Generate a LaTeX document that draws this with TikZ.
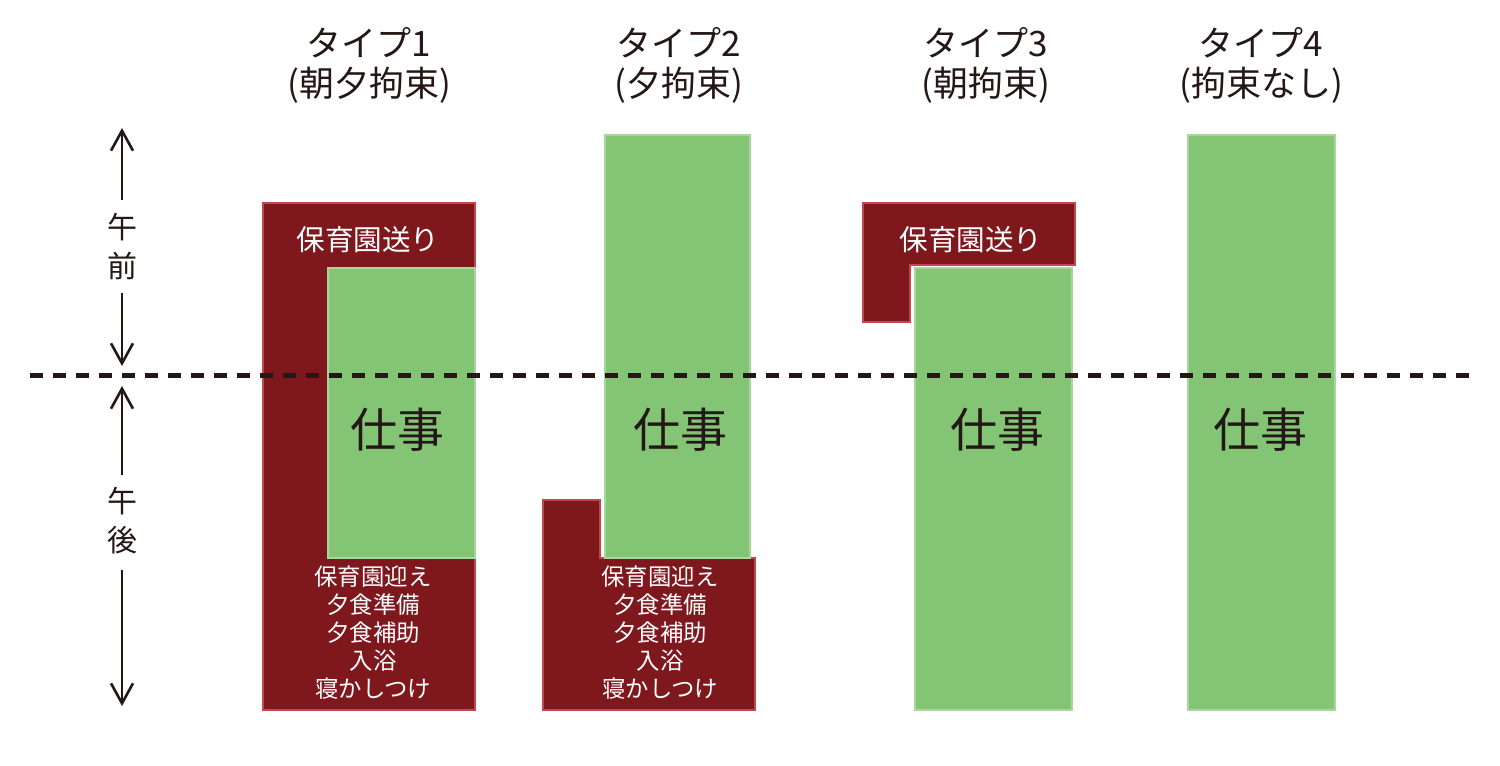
\documentclass[tikz,border=0pt]{standalone}
\usepackage{fontspec}
\setmainfont{Noto Sans CJK JP}
\usetikzlibrary{arrows.meta}
\definecolor{dred}{HTML}{7E181D}
\definecolor{redline}{HTML}{C2464A}
\definecolor{work}{HTML}{83C574}
\definecolor{workline}{HTML}{A8D69B}
\definecolor{ink}{HTML}{231815}
\begin{document}
\begin{tikzpicture}[x=0.5pt,y=-0.5pt,
  care/.style={fill=dred,draw=redline,line width=1pt},
  job/.style={fill=work,draw=workline,line width=1pt},
  title/.style={text=ink,align=center,font=\fontsize{17.5}{20}\selectfont},
  jobtxt/.style={text=ink,font=\fontsize{23.5}{26}\selectfont},
  sendtxt/.style={text=white,font=\fontsize{14.3}{16}\selectfont},
  picktxt/.style={text=white,align=center,font=\fontsize{11.7}{14}\selectfont},
  side/.style={text=ink,align=center,font=\fontsize{15}{19.5}\selectfont},
  arr/.style={draw=ink,line width=1.3pt,-{Straight Barb[length=10pt,width=11pt,line width=1.3pt]}},
  noon/.style={draw=ink,line width=2.5pt,dash pattern=on 6.5pt off 5pt}
]
\useasboundingbox (0,0) rectangle (1500,766);
\fill[white] (0,0) rectangle (1500,766);

% titles
\node[title] (t1) at (369,65) {タイプ1\\(朝夕拘束)};
\node[title] (t2) at (679,65) {タイプ2\\(夕拘束)};
\node[title] (t3) at (986,65) {タイプ3\\(朝拘束)};
\node[title] (t4) at (1261,65) {タイプ4\\(拘束なし)};

% type 1
\path[care] (263,203) rectangle (475,710);
\path[job] (328,268) rectangle (475,558);
\node[sendtxt] (s1) at (368,240) {保育園送り};
\node[picktxt] (p1) at (373,633) {保育園迎え\\夕食準備\\夕食補助\\入浴\\寝かしつけ};

% type 2
\path[care] (543,500) -- (600,500) -- (600,558) -- (755,558) -- (755,710) -- (543,710) -- cycle;
\path[job] (605,135) rectangle (750,558);
\node[picktxt] (p2) at (660,633) {保育園迎え\\夕食準備\\夕食補助\\入浴\\寝かしつけ};

% type 3
\path[care] (863,203) -- (1075,203) -- (1075,265) -- (910,265) -- (910,322) -- (863,322) -- cycle;
\path[job] (915,268) rectangle (1072,710);
\node[sendtxt] (s3) at (971,240) {保育園送り};

% type 4
\path[job] (1188,135) rectangle (1335,710);

% noon line
\coordinate (nl) at (30,375);
\coordinate (nr) at (1470,375);
\draw[noon] (nl) -- (nr);

% work labels
\node[jobtxt] (w1) at (397,430) {仕事};
\node[jobtxt] (w2) at (680,430) {仕事};
\node[jobtxt] (w3) at (997,430) {仕事};
\node[jobtxt] (w4) at (1260,430) {仕事};

% side labels and arrows
\node[side] (am) at (122,247) {午\\前};
\node[side] (pm) at (122,521) {午\\後};
\coordinate (amtop) at (122,128);
\coordinate (amtopend) at (122,200);
\coordinate (ambotstart) at (122,293);
\coordinate (ambot) at (122,366);
\coordinate (pmtop) at (122,386);
\coordinate (pmtopend) at (122,475);
\coordinate (pmbotstart) at (122,570);
\coordinate (pmbot) at (122,706);
\draw[arr] (amtopend) -- (amtop);
\draw[arr] (ambotstart) -- (ambot);
\draw[arr] (pmtopend) -- (pmtop);
\draw[arr] (pmbotstart) -- (pmbot);
\end{tikzpicture}
\end{document}
